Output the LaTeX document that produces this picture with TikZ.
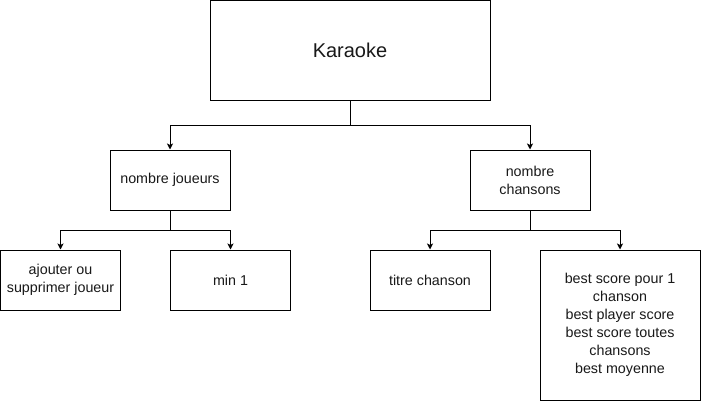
\documentclass[tikz,border=0pt]{standalone}
\usepackage{fontspec}
\setmainfont{Liberation Sans}
\usetikzlibrary{arrows.meta}
\begin{document}
\begin{tikzpicture}[x=1pt,y=-1pt,
  box/.style={draw=black, line width=1pt, fill=white, align=center, inner sep=0pt,
    font=\fontsize{14.3}{18}\selectfont, text=black!90},
  arr/.style={draw=black, line width=1pt, -{Stealth[length=6pt,width=6pt,inset=1.5pt]}}]
\useasboundingbox (0,0) rectangle (701,401);
\node[box, minimum width=280pt, minimum height=100pt, font=\fontsize{20}{24}\selectfont] (K) at (350,50.5) {Karaoke};
\node[box, minimum width=120pt, minimum height=60pt] (NJ) at (170,180) {nombre joueurs};
\node[box, minimum width=120pt, minimum height=60pt] (NC) at (530,180) {nombre\\chansons};
\node[box, minimum width=120pt, minimum height=60pt] (A) at (60.5,280) {ajouter ou\\supprimer joueur};
\node[box, minimum width=120pt, minimum height=60pt] (M) at (230.5,280) {min 1};
\node[box, minimum width=120pt, minimum height=60pt] (T) at (430,280) {titre chanson};
\node[box, minimum width=160pt, minimum height=150pt] (B) at (620,325) {best score pour 1\\chanson\\best player score\\best score toutes\\chansons\\best moyenne};
\draw[arr] (K.south) -- ++(0,25) -| (NJ.north);
\draw[arr] (K.south) -- ++(0,25) -| (NC.north);
\draw[arr] (NJ.south) -- ++(0,20) -| (A.north);
\draw[arr] (NJ.south) -- ++(0,20) -| (M.north);
\draw[arr] (NC.south) -- ++(0,20) -| (T.north);
\draw[arr] (NC.south) -- ++(0,20) -| (B.north);
\end{tikzpicture}
\end{document}
